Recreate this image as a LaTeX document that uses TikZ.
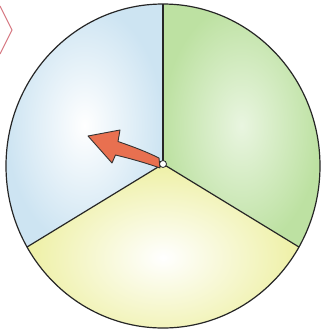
\documentclass[tikz,border=0pt]{standalone}
\usetikzlibrary{calc,shadings}
\definecolor{sblue}{RGB}{205,228,242}
\definecolor{sgreen}{RGB}{182,222,152}
\definecolor{syellow}{RGB}{238,240,165}
\definecolor{arrowfill}{RGB}{232,112,80}
\definecolor{pinkline}{RGB}{215,120,130}
\tikzset{
  edge/.style={draw=black!85, line width=1.2pt},
}
\begin{document}
\begin{tikzpicture}[x=1pt,y=1pt]
\useasboundingbox (0,0) rectangle (321,-335);
\fill[white] (0,0) rectangle (321,-335);
% pink corner mark
\draw[pinkline, line width=0.9pt] (0,-6) -- (12,-30) -- (0,-54);
\coordinate (O) at (163,-166);
\coordinate (H) at (163,-164);
\coordinate (T) at (163,-4);
\coordinate (Rp) at ($(O)+({157*cos(-30)},{162*sin(-30)})$);
\coordinate (Lp) at ($(O)+({157*cos(210)},{162*sin(210)})$);
% sectors
\shade[inner color=white, outer color=sblue] (H) -- (T) arc[start angle=90, end angle=210, x radius=157, y radius=162] -- cycle;
\shade[inner color=sgreen!30, outer color=sgreen!90] (H) -- (T) arc[start angle=90, end angle=-30, x radius=157, y radius=162] -- cycle;
\shade[inner color=white, outer color=syellow] (H) -- (Rp) arc[start angle=-30, end angle=-150, x radius=157, y radius=162] -- cycle;
% outline and dividers
\draw[edge] (O) ellipse[x radius=157, y radius=162];
\draw[edge] (H) -- (T);
\draw[edge] (H) -- (Rp);
\draw[edge] (H) -- (Lp);
% arrow
\draw[black!80, line width=0.9pt, fill=arrowfill, line join=round]
  (88,-136) -- (120,-130) -- (118,-141.5)
  .. controls (134,-147) and (147,-152) .. (159,-158)
  -- (160,-168)
  .. controls (146,-163) and (132,-159) .. (115.5,-155)
  -- (112,-163) -- cycle;
% hub
\node[circle, draw=black!85, fill=white, line width=0.8pt, inner sep=0pt, minimum size=7pt] (hub) at (H) {};
\end{tikzpicture}
\end{document}
